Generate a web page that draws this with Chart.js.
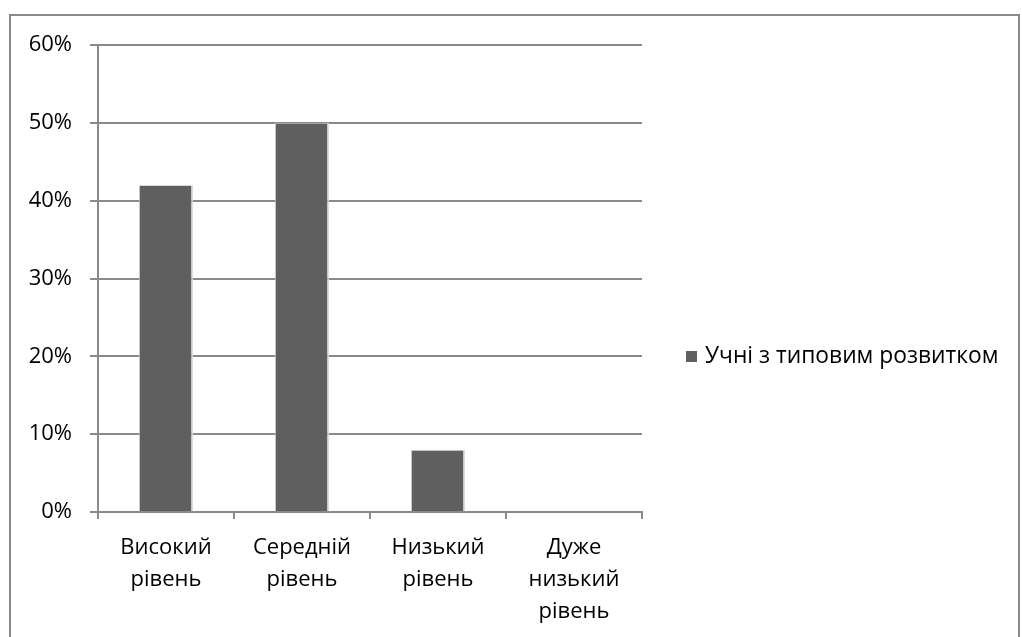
<!DOCTYPE html>
<html>
<head>
<meta charset="utf-8">
<script src="https://cdn.jsdelivr.net/npm/chart.js@4"></script>
<style>
  html, body { margin: 0; padding: 0; background: #fff; overflow: hidden; }
  #frame { position: absolute; left: 9px; top: 14px; width: 1011px; height: 640px; border: 2px solid #8a8a8a; box-sizing: border-box; }
  #wrap { position: absolute; left: 0; top: 0; width: 1022px; height: 637px; }
</style>
</head>
<body>
<div id="frame"></div>
<div id="wrap"><canvas id="levelsChart"></canvas></div>
<script>
const categories = [["Високий", "рівень"], ["Середній", "рівень"], ["Низький", "рівень"], ["Дуже", "низький", "рівень"]];
const seriesName = "Учні з типовим розвитком";
const seriesValues = [42, 50, 8, 0];
const yTicks = [0, 10, 20, 30, 40, 50, 60];

const fontFamily = "'Open Sans', sans-serif";
const gridColor = "#8a8a8a";
const barColor = "#5f5f5f";

// legend drawn by hand so it sits where the original has it
const sideLegend = {
  id: "sideLegend",
  afterDraw(chart) {
    const ctx = chart.ctx;
    const x = chart.chartArea.right + 44;
    const y = 357;
    ctx.save();
    ctx.fillStyle = barColor;
    ctx.fillRect(x, y - 6, 11, 11);
    ctx.fillStyle = "#000";
    ctx.font = "22.8px " + fontFamily;
    ctx.textBaseline = "middle";
    ctx.textAlign = "left";
    ctx.fillText(seriesName, x + 19, y);
    ctx.restore();
  }
};

document.addEventListener("DOMContentLoaded", () => {
  const ctx = document.getElementById("levelsChart").getContext("2d");
  new Chart(ctx, {
    type: "bar",
    data: {
      labels: categories,
      datasets: [
        {
          label: seriesName,
          data: seriesValues,
          backgroundColor: barColor,
          borderColor: "rgba(215,215,215,0.9)",
          borderWidth: { left: 1, right: 2, top: 1, bottom: 0 },
          barPercentage: 0.4,
          categoryPercentage: 1,
        },
      ],
    },
    options: {
      responsive: true,
      maintainAspectRatio: false,
      animation: false,
      layout: { padding: { left: 0, right: 380, top: 45, bottom: 0 } },
      plugins: {
        legend: { display: false },
        tooltip: { enabled: false },
      },
      scales: {
        x: {
          grid: { offset: true, drawOnChartArea: false, drawTicks: true, tickLength: 7, color: gridColor, lineWidth: 2 },
          border: { display: true, color: gridColor, width: 2 },
          ticks: { color: "#000", padding: 13, font: { family: fontFamily, size: 22, lineHeight: 1.45 }, maxRotation: 0 },
          afterFit(scale) { scale.height = 125; },
        },
        y: {
          min: 0,
          max: 60,
          afterBuildTicks(scale) { scale.ticks = yTicks.map(v => ({ value: v })); },
          grid: { color: gridColor, lineWidth: 2, tickLength: 8 },
          border: { display: true, color: gridColor, width: 2 },
          ticks: { color: "#000", padding: 18, font: { family: fontFamily, size: 22 }, callback: v => v + "%" },
          afterFit(scale) { scale.width = 98; },
        },
      },
    },
    plugins: [sideLegend],
  });
});
</script>
</body>
</html>
